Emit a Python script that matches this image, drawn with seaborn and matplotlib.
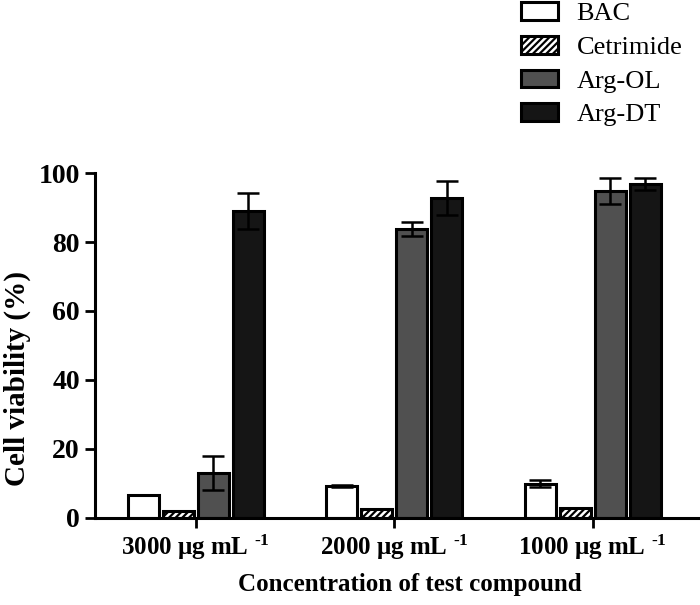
import matplotlib
matplotlib.use("Agg")
import matplotlib.pyplot as plt
import seaborn as sns
import pandas as pd
import numpy as np

concentrations = ["3000 μg mL $^{‐1}$", "2000 μg mL $^{‐1}$", "1000 μg mL $^{‐1}$"]
compounds = ["BAC", "Cetrimide", "Arg-OL", "Arg-DT"]
bac = [6.7, 9.3, 9.9]
cetrimide = [2.0, 2.6, 3.0]
arg_ol = [13.0, 83.8, 94.8]
arg_dt = [89.0, 92.8, 96.8]
bac_err = [0.0, 0.3, 1.0]
cetrimide_err = [0.0, 0.0, 0.0]
arg_ol_err = [5.0, 2.0, 3.8]
arg_dt_err = [5.2, 5.0, 1.8]

colors = ["#ffffff", "#ffffff", "#505050", "#151515"]
hatches = ["", "/////", "", ""]

sns.set_theme(style="ticks")
plt.rcParams["font.family"] = ["Liberation Serif", "DejaVu Serif"]
plt.rcParams["font.weight"] = "bold"
plt.rcParams["mathtext.fontset"] = "custom"
plt.rcParams["mathtext.rm"] = "Liberation Serif:bold"
plt.rcParams["mathtext.default"] = "rm"
plt.rcParams["hatch.linewidth"] = 1.6
for k in ["text.color", "axes.labelcolor", "xtick.color", "ytick.color", "axes.edgecolor"]:
    plt.rcParams[k] = "black"

values = [bac, cetrimide, arg_ol, arg_dt]
errors = [bac_err, cetrimide_err, arg_ol_err, arg_dt_err]
df = pd.DataFrame({
    "conc": concentrations * 4,
    "compound": np.repeat(compounds, 3),
    "viability": np.concatenate(values),
    "err": np.concatenate(errors),
})

fig = plt.figure(figsize=(7, 6.05), dpi=100)
ax = fig.add_axes([0.135, 0.144, 0.865, 0.57])

sns.barplot(data=df, x="conc", y="viability", hue="compound", order=concentrations,
            hue_order=compounds, palette=colors, width=0.704, gap=0.11,
            errorbar=None, edgecolor="black", linewidth=2.2, saturation=1, ax=ax,
            legend=False)

# bars come out hue by hue, then category by category
for i, comp in enumerate(compounds):
    for j in range(len(concentrations)):
        p = ax.patches[i * len(concentrations) + j]
        p.set_hatch(hatches[i])
        x = p.get_x() + p.get_width() / 2
        if errors[i][j] > 0:
            ax.errorbar(x, values[i][j], yerr=errors[i][j], color="black",
                        capsize=8, elinewidth=1.8, capthick=1.8, zorder=5)

handles = [matplotlib.patches.Patch(facecolor=colors[i], edgecolor="black",
                                    linewidth=2.2, hatch=hatches[i])
           for i in range(len(compounds))]
fig.legend(handles, compounds, loc="upper left", bbox_to_anchor=(0.725, 1.018),
           bbox_transform=fig.transFigure, frameon=False, borderpad=0,
           handlelength=1.42, handleheight=0.65, labelspacing=0.4,
           handletextpad=0.7, prop={"family": "Liberation Serif", "weight": "normal", "size": 19})

ax.set_ylim(0, 100)
ax.set_xlim(-0.51, 2.54)
ax.set_yticks([0, 20, 40, 60, 80, 100])
ax.tick_params(axis="both", width=2, length=7, direction="out")
ax.tick_params(axis="y", labelsize=20)
ax.tick_params(axis="x", labelsize=18)
for lab in ax.get_yticklabels() + ax.get_xticklabels():
    lab.set_fontweight("bold")
ax.set_ylabel("Cell viability (%)", fontsize=21, fontweight="bold")
ax.set_xlabel("Concentration of test compound", fontsize=18, fontweight="bold")
ax.yaxis.set_label_coords(-0.105, 0.405)
ax.xaxis.set_label_coords(0.52, -0.16)
sns.despine(ax=ax)
for s in ["left", "bottom"]:
    ax.spines[s].set_linewidth(2.2)

fig.savefig("out.png", dpi=100)
